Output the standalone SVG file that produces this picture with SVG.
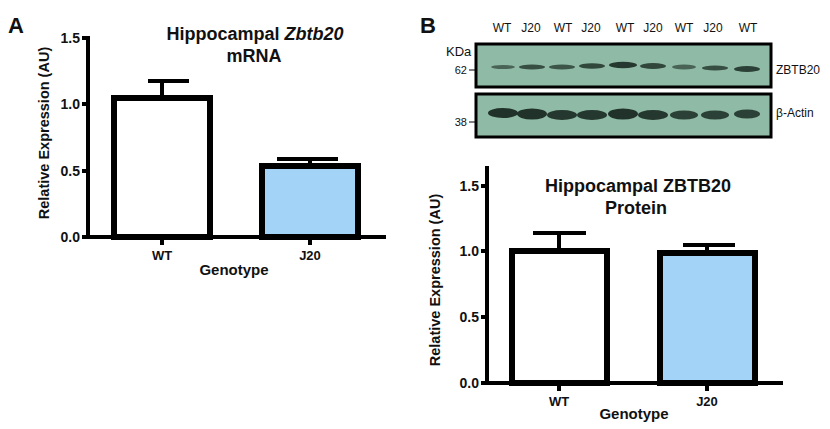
<svg xmlns="http://www.w3.org/2000/svg" width="830" height="429" viewBox="0 0 830 429">
<style>
text{font-family:"Liberation Sans",Arial,sans-serif;fill:#111}
.b{font-weight:bold}
.ax{stroke:#000;stroke-width:4;fill:none}
.bar{stroke:#000;stroke-width:6}
.tk{font-size:14px;font-weight:bold;text-anchor:end}
.lane{font-size:12px;text-anchor:middle}
.band{fill:#1a2a22}
</style>
<rect width="830" height="429" fill="#fff"/>
<text x="8" y="33" class="b" font-size="22">A</text>
<text x="420" y="33" class="b" font-size="22">B</text>
<g id="chartA">
<text x="255" y="40" class="b" font-size="18" text-anchor="middle">Hippocampal <tspan font-style="italic">Zbtb20</tspan></text>
<text x="254" y="62" class="b" font-size="18" text-anchor="middle">mRNA</text>
<path class="ax" d="M88 36V237H386M82 38H88M82 104H88M82 171H88M82 237H88M162 237V245M310 237V245"/>
<text x="80" y="43" class="tk">1.5</text><text x="80" y="109" class="tk">1.0</text><text x="80" y="176" class="tk">0.5</text><text x="80" y="242" class="tk">0.0</text>
<text transform="translate(49,133) rotate(-90)" class="b" font-size="14.5" text-anchor="middle">Relative Expression (AU)</text>
<path class="ax" stroke-width="5" d="M162 98V81M148 81H189M310 166V159M277 159H338"/>
<rect class="bar" x="114" y="98" width="96" height="139" fill="#fff"/>
<rect class="bar" x="262" y="166" width="96" height="71" fill="#a3d4f8"/>
<text x="162" y="260" class="b" font-size="13" text-anchor="middle">WT</text>
<text x="310" y="260" class="b" font-size="13" text-anchor="middle">J20</text>
<text x="234" y="275" class="b" font-size="15" text-anchor="middle">Genotype</text>
</g>
<g id="blot">
<text x="502" y="32" class="lane">WT</text><text x="531" y="32" class="lane">J20</text><text x="563" y="32" class="lane">WT</text><text x="591" y="32" class="lane">J20</text><text x="625" y="32" class="lane">WT</text><text x="653" y="32" class="lane">J20</text><text x="684" y="32" class="lane">WT</text><text x="713" y="32" class="lane">J20</text><text x="748" y="32" class="lane">WT</text>
<text x="446" y="56" font-size="13">KDa</text>
<text x="467" y="74" font-size="11" text-anchor="end">62</text>
<text x="467" y="126" font-size="11" text-anchor="end">38</text>
<path d="M469 70H475M469 122H475" stroke="#000" stroke-width="1"/>
<rect x="476" y="44" width="295" height="43" fill="#8fbba6" stroke="#000" stroke-width="3"/>
<rect x="476" y="94" width="295" height="43" fill="#8fbba6" stroke="#000" stroke-width="3"/>
<g class="band">
<ellipse cx="503" cy="67" rx="12" ry="2" opacity=".6"/><ellipse cx="532" cy="67" rx="13" ry="2.6" opacity=".75"/><ellipse cx="562" cy="67" rx="13" ry="2.5" opacity=".7"/><ellipse cx="592" cy="66" rx="13" ry="2.8" opacity=".8"/><ellipse cx="623" cy="65" rx="14" ry="3.2" opacity=".9"/><ellipse cx="653" cy="66" rx="13" ry="3" opacity=".8"/><ellipse cx="684" cy="67" rx="12" ry="2.4" opacity=".6"/><ellipse cx="715" cy="68" rx="13" ry="2.6" opacity=".75"/><ellipse cx="747" cy="69" rx="13" ry="3" opacity=".85"/>
<ellipse cx="503" cy="113" rx="15" ry="5" opacity=".95"/><ellipse cx="532" cy="114" rx="15" ry="5.5" opacity=".95"/><ellipse cx="562" cy="115" rx="15" ry="5" opacity=".9"/><ellipse cx="592" cy="115" rx="15" ry="5" opacity=".9"/><ellipse cx="623" cy="114" rx="15" ry="5.5" opacity=".95"/><ellipse cx="653" cy="115" rx="15" ry="5" opacity=".9"/><ellipse cx="684" cy="115" rx="14" ry="4.5" opacity=".85"/><ellipse cx="715" cy="115" rx="14" ry="4.5" opacity=".85"/><ellipse cx="747" cy="114" rx="13" ry="4.5" opacity=".85"/>
</g>
<text x="776" y="74" font-size="12">ZBTB20</text>
<text x="776" y="117" font-size="12">β-Actin</text>
</g>
<g id="chartB">
<text x="638" y="192" class="b" font-size="18" text-anchor="middle">Hippocampal ZBTB20</text>
<text x="636" y="214" class="b" font-size="18" text-anchor="middle">Protein</text>
<path class="ax" d="M487 166V383H783M481 186H487M481 251H487M481 317H487M481 383H487M559 383V391M707 383V391"/>
<text x="479" y="191" class="tk">1.5</text><text x="479" y="256" class="tk">1.0</text><text x="479" y="322" class="tk">0.5</text><text x="479" y="388" class="tk">0.0</text>
<text transform="translate(440,280) rotate(-90)" class="b" font-size="14.5" text-anchor="middle">Relative Expression (AU)</text>
<path class="ax" stroke-width="5" d="M559 251V233M533 233H586M707 253V245M683 245H735"/>
<rect class="bar" x="512" y="251" width="95" height="132" fill="#fff"/>
<rect class="bar" x="660" y="253" width="95" height="130" fill="#a3d4f8"/>
<text x="559" y="406" class="b" font-size="13" text-anchor="middle">WT</text>
<text x="707" y="406" class="b" font-size="13" text-anchor="middle">J20</text>
<text x="634" y="419" class="b" font-size="15" text-anchor="middle">Genotype</text>
</g>
</svg>
